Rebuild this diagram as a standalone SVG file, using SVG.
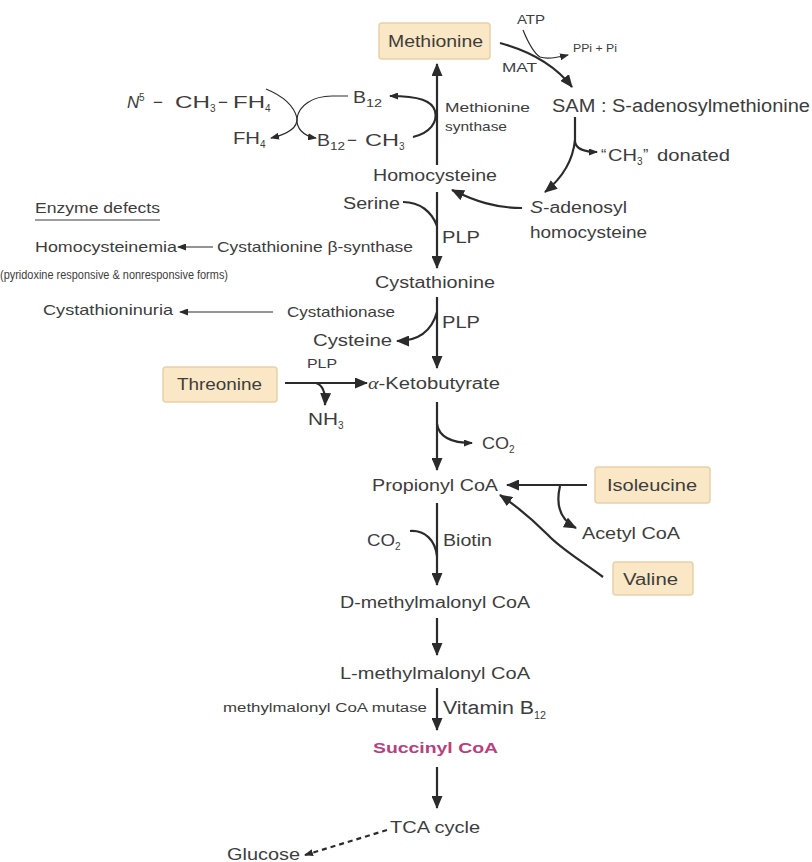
<svg xmlns="http://www.w3.org/2000/svg" width="812" height="862" viewBox="0 0 812 862">
<defs>
<marker id="ah" markerUnits="userSpaceOnUse" markerWidth="13" markerHeight="11" refX="12" refY="5.5" orient="auto"><path d="M0,0 L13,5.5 L0,11 z" fill="#2b2b2b"/></marker>
<marker id="ahs" markerUnits="userSpaceOnUse" markerWidth="9" markerHeight="7" refX="8" refY="3.5" orient="auto"><path d="M0,0 L9,3.5 L0,7 z" fill="#2b2b2b"/></marker>
<style>
text{font-family:"Liberation Sans",Arial,sans-serif;fill:#3d3d3d;}
.c{font-size:16px;}
.s{font-size:12px;}
.sub{font-size:10px;}
.box{fill:#fae7c5;stroke:#e9d1a6;stroke-width:1.5;}
.ln{fill:none;stroke:#2b2b2b;stroke-width:2.2;}
.th{fill:none;stroke:#2b2b2b;stroke-width:1.2;}
</style>
</defs>
<rect width="812" height="862" fill="#ffffff"/>

<g id="connectors">
<path class="ln" d="M437,165 L437,64" marker-end="url(#ah)"/>
<path class="ln" d="M500,43 Q548,56 572,87" marker-end="url(#ah)"/>
<path class="th" d="M523,30 Q532,52 540,57 Q548,60 568,55" marker-end="url(#ahs)"/>
<path class="th" d="M266,89 C283,96 294,106 297,118 C298,128 288,134 271,138" marker-end="url(#ahs)"/>
<path class="th" d="M348,96 L332,96 C312,96 299,106 297,118 C296,128 303,136 316,138" marker-end="url(#ahs)"/>
<path class="ln" d="M413,137 C430,133 438,122 435,111 C432,101 420,96 390,96" marker-end="url(#ahs)"/>
<path class="ln" d="M575,117 L575,142 Q577,152 597,152" marker-end="url(#ahs)"/>
<path class="ln" d="M575,140 Q572,170 545,192" marker-end="url(#ah)"/>
<path class="ln" d="M522,208 C495,208 475,201 452,190" marker-end="url(#ah)"/>
<path class="ln" d="M403,202 C420,202 432,212 437,226"/>
<path class="ln" d="M437,192 L437,268" marker-end="url(#ah)"/>
<path class="ln" d="M437,297 L437,368" marker-end="url(#ah)"/>
<path class="ln" d="M437,312 C432,330 420,341 397,341" marker-end="url(#ah)"/>
<path class="th" d="M213,247 L178,247" marker-end="url(#ahs)"/>
<path class="th" d="M273,312 L180,312" marker-end="url(#ahs)"/>
<path class="ln" d="M285,383 L367,383" marker-end="url(#ah)"/>
<path class="ln" d="M316,383 Q326,386 325,405" marker-end="url(#ah)"/>
<path class="ln" d="M437,402 L437,470" marker-end="url(#ah)"/>
<path class="ln" d="M437,424 Q440,443 472,443" marker-end="url(#ahs)"/>
<path class="ln" d="M587,485 L507,485" marker-end="url(#ah)"/>
<path class="ln" d="M560,486 Q553,516 576,528" marker-end="url(#ah)"/>
<path class="ln" d="M603,577 C580,560 560,548 548,535 C535,522 515,505 500,495" marker-end="url(#ah)"/>
<path class="ln" d="M437,503 L437,585" marker-end="url(#ah)"/>
<path class="ln" d="M410,531 C425,530 435,540 437,556"/>
<path class="ln" d="M437,618 L437,655" marker-end="url(#ah)"/>
<path class="ln" d="M437,688 L437,730" marker-end="url(#ah)"/>
<path class="ln" d="M437,767 L437,808" marker-end="url(#ah)"/>
<path class="ln" d="M387,830 L305,855" stroke-dasharray="5,4" marker-end="url(#ahs)"/>
</g>

<g id="methionine"><rect class="box" x="379" y="23" width="111" height="36" rx="3"/><text class="c" x="388" y="47" textLength="95" lengthAdjust="spacingAndGlyphs">Methionine</text></g>
<g id="atp"><text x="517" y="24" font-size="12" textLength="28" lengthAdjust="spacingAndGlyphs">ATP</text></g>
<g id="ppi"><text x="573" y="52" font-size="11" textLength="44" lengthAdjust="spacingAndGlyphs">PPi + Pi</text></g>
<g id="mat"><text x="502" y="72" font-size="12" textLength="35" lengthAdjust="spacingAndGlyphs">MAT</text></g>
<g id="sam"><text x="552" y="112" font-size="18" textLength="258" lengthAdjust="spacingAndGlyphs">SAM : S-adenosylmethionine</text></g>
<g id="met-synthase"><text x="445" y="112" font-size="13" textLength="85" lengthAdjust="spacingAndGlyphs">Methionine</text><text x="445" y="131" font-size="13" textLength="62" lengthAdjust="spacingAndGlyphs">synthase</text></g>
<g id="n5">
<text x="127" y="108" font-size="17" font-style="italic">N</text><text class="sub" x="139" y="101">5</text>
<text x="153" y="108" font-size="17">−</text>
<text x="175" y="108" font-size="17" textLength="35" lengthAdjust="spacingAndGlyphs">CH</text><text class="sub" x="210" y="112">3</text>
<text x="218" y="108" font-size="17">−</text>
<text x="233" y="108" font-size="17" textLength="32" lengthAdjust="spacingAndGlyphs">FH</text><text class="sub" x="265" y="112">4</text>
</g>
<g id="b12"><text x="353" y="103" font-size="17" textLength="13" lengthAdjust="spacingAndGlyphs">B</text><text class="sub" x="366" y="107" textLength="16" lengthAdjust="spacingAndGlyphs">12</text></g>
<g id="fh4"><text x="233" y="144" font-size="16" textLength="27" lengthAdjust="spacingAndGlyphs">FH</text><text class="sub" x="260" y="148">4</text></g>
<g id="b12ch3"><text x="317" y="146" font-size="17" textLength="13" lengthAdjust="spacingAndGlyphs">B</text><text class="sub" x="330" y="150" textLength="15" lengthAdjust="spacingAndGlyphs">12</text><text x="347" y="146" font-size="17">−</text><text x="365" y="146" font-size="17" textLength="34" lengthAdjust="spacingAndGlyphs">CH</text><text class="sub" x="399" y="150">3</text></g>
<g id="ch3-donated"><text x="601" y="161" font-size="16">“</text><text x="608" y="161" font-size="16" textLength="29" lengthAdjust="spacingAndGlyphs">CH</text><text class="sub" x="637" y="165">3</text><text x="643" y="161" font-size="16">”</text><text x="657" y="161" font-size="16" textLength="73" lengthAdjust="spacingAndGlyphs">donated</text></g>
<g id="homocysteine"><text class="c" x="373" y="181" textLength="124" lengthAdjust="spacingAndGlyphs">Homocysteine</text></g>
<g id="sah"><text class="c" x="530" y="213" textLength="97" lengthAdjust="spacingAndGlyphs"><tspan font-style="italic">S</tspan>-adenosyl</text><text class="c" x="530" y="238" textLength="117" lengthAdjust="spacingAndGlyphs">homocysteine</text></g>
<g id="serine"><text class="c" x="343" y="209" textLength="57" lengthAdjust="spacingAndGlyphs">Serine</text></g>
<g id="plp1"><text class="c" x="442" y="243" textLength="38" lengthAdjust="spacingAndGlyphs">PLP</text></g>
<g id="cystathionine"><text class="c" x="375" y="288" textLength="120" lengthAdjust="spacingAndGlyphs">Cystathionine</text></g>
<g id="plp2"><text class="c" x="442" y="328" textLength="38" lengthAdjust="spacingAndGlyphs">PLP</text></g>
<g id="cysteine"><text class="c" x="313" y="346" textLength="79" lengthAdjust="spacingAndGlyphs">Cysteine</text></g>
<g id="enzyme-defects"><text x="35" y="213" font-size="15" textLength="125" lengthAdjust="spacingAndGlyphs">Enzyme defects</text><line x1="35" y1="220" x2="160" y2="220" stroke="#3d3d3d" stroke-width="1"/></g>
<g id="homocysteinemia"><text x="35" y="252" font-size="15" textLength="142" lengthAdjust="spacingAndGlyphs">Homocysteinemia</text></g>
<g id="cbs"><text x="217" y="252" font-size="15" textLength="196" lengthAdjust="spacingAndGlyphs">Cystathionine β-synthase</text></g>
<g id="pyridoxine"><text x="0" y="279" font-size="12" textLength="228" lengthAdjust="spacingAndGlyphs">(pyridoxine responsive  &amp; nonresponsive forms)</text></g>
<g id="cystathioninuria"><text x="43" y="315" font-size="15" textLength="130" lengthAdjust="spacingAndGlyphs">Cystathioninuria</text></g>
<g id="cystathionase"><text x="287" y="317" font-size="15" textLength="108" lengthAdjust="spacingAndGlyphs">Cystathionase</text></g>
<g id="plp3"><text x="307" y="368" font-size="13" textLength="30" lengthAdjust="spacingAndGlyphs">PLP</text></g>
<g id="threonine"><rect class="box" x="163" y="367" width="114" height="35" rx="3"/><text class="c" x="177" y="390" textLength="85" lengthAdjust="spacingAndGlyphs">Threonine</text></g>
<g id="ketobutyrate"><text class="c" x="368" y="389" textLength="132" lengthAdjust="spacingAndGlyphs"><tspan font-style="italic" font-family="Liberation Serif,serif">α</tspan>-Ketobutyrate</text></g>
<g id="nh3"><text class="c" x="308" y="425" textLength="30" lengthAdjust="spacingAndGlyphs">NH</text><text class="sub" x="338" y="429">3</text></g>
<g id="co2a"><text class="c" x="482" y="449" textLength="27" lengthAdjust="spacingAndGlyphs">CO</text><text class="sub" x="509" y="453">2</text></g>
<g id="propionyl"><text class="c" x="372" y="491" textLength="126" lengthAdjust="spacingAndGlyphs">Propionyl CoA</text></g>
<g id="isoleucine"><rect class="box" x="595" y="467" width="115" height="36" rx="3"/><text class="c" x="607" y="491" textLength="90" lengthAdjust="spacingAndGlyphs">Isoleucine</text></g>
<g id="acetyl"><text class="c" x="582" y="539" textLength="98" lengthAdjust="spacingAndGlyphs">Acetyl CoA</text></g>
<g id="valine"><rect class="box" x="613" y="562" width="80" height="33" rx="3"/><text class="c" x="623" y="585" textLength="55" lengthAdjust="spacingAndGlyphs">Valine</text></g>
<g id="co2b"><text class="c" x="367" y="546" textLength="28" lengthAdjust="spacingAndGlyphs">CO</text><text class="sub" x="395" y="550">2</text></g>
<g id="biotin"><text class="c" x="443" y="546" textLength="49" lengthAdjust="spacingAndGlyphs">Biotin</text></g>
<g id="d-methylmalonyl"><text class="c" x="340" y="608" textLength="190" lengthAdjust="spacingAndGlyphs">D-methylmalonyl CoA</text></g>
<g id="l-methylmalonyl"><text class="c" x="340" y="679" textLength="190" lengthAdjust="spacingAndGlyphs">L-methylmalonyl CoA</text></g>
<g id="mutase"><text x="223" y="712" font-size="12" textLength="204" lengthAdjust="spacingAndGlyphs">methylmalonyl CoA mutase</text></g>
<g id="vitb12"><text x="443" y="714" font-size="18" textLength="91" lengthAdjust="spacingAndGlyphs">Vitamin B</text><text x="534" y="719" font-size="11" textLength="12" lengthAdjust="spacingAndGlyphs">12</text></g>
<g id="succinyl"><text x="373" y="753" font-size="15" font-weight="bold" style="fill:#b7417f" textLength="125" lengthAdjust="spacingAndGlyphs">Succinyl CoA</text></g>
<g id="tca"><text class="c" x="390" y="833" textLength="90" lengthAdjust="spacingAndGlyphs">TCA cycle</text></g>
<g id="glucose"><text class="c" x="227" y="860" textLength="73" lengthAdjust="spacingAndGlyphs">Glucose</text></g>
</svg>
